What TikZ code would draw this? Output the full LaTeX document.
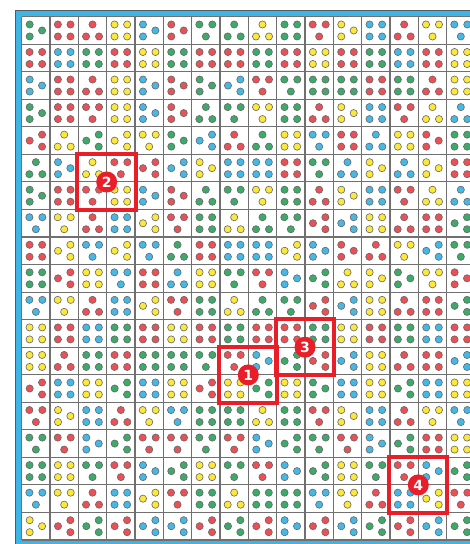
\documentclass[tikz,border=0pt]{standalone}
\usepackage{fontspec}
\newfontfamily\badgefont{DejaVu Sans}
\definecolor{colg}{HTML}{3DAA6A}
\definecolor{colr}{HTML}{EB5057}
\definecolor{colb}{HTML}{45B8E6}
\definecolor{coly}{HTML}{FCE83A}
\definecolor{frameblue}{HTML}{3DB5E6}
\definecolor{hired}{HTML}{E81E28}
\definecolor{gridgray}{HTML}{707070}
\def\parsecell#1#2\relax{\def\dcol{col#1}\def\cpat{#2}}
\newcommand\dicedot[2]{\path[dotsty] (#1,#2) circle[radius=3.6pt];}
\def\patQ{\dicedot{-6.3}{-6}\dicedot{6.3}{-6}\dicedot{-6.3}{6}\dicedot{6.3}{6}}
\def\patU{\dicedot{0}{-6}\dicedot{-6.5}{6}\dicedot{6.5}{6}}
\def\patD{\dicedot{-6.5}{-6}\dicedot{6.5}{-6}\dicedot{0}{6}}
\def\patL{\dicedot{-6.2}{-6}\dicedot{-6.2}{6}\dicedot{6.2}{0}}
\def\patR{\dicedot{-6.2}{0}\dicedot{6.2}{-6}\dicedot{6.2}{6}}
\tikzset{
  dotsty/.style={fill=\dcol, draw=black!60, line width=0.6pt},
  gridline/.style={draw=gridgray, line width=1.1pt},
  hibox/.style={draw=hired, line width=4pt},
  badge/.style={circle, fill=hired, text=white, inner sep=0pt, minimum size=21pt, font=\badgefont\bfseries\fontsize{14}{14}\selectfont}
}
\begin{document}
\begin{tikzpicture}[x=1pt,y=-1pt]
\useasboundingbox (0,0) rectangle (470,544);
\begin{scope}
\clip (0,0) rectangle (470,544);
\fill[frameblue] (15,10.5) rectangle (480,550);
\draw[black!65, line width=0.8pt] (15,10.5) rectangle (480,550);
\fill[white] (21.7,16.7) rectangle (480,540.1);
\foreach \i in {0,...,16} \draw[gridline] ({21.7+28.33*\i},16.7) -- ({21.7+28.33*\i},540.1);
\foreach \j in {0,...,19} \draw[gridline] (21.7,{16.7+27.54*\j}) -- (480,{16.7+27.54*\j});
\foreach \rowlist [count=\r from 0] in {
{gL,rQ,rU,yQ,bL,rL,gD,gU,yU,gQ,rD,yL,bQ,rU,yD,bD},
{rQ,bQ,gQ,rQ,yQ,gQ,rQ,rQ,gQ,rQ,yQ,rQ,gQ,bQ,rQ,yQ},
{bL,rQ,rU,yQ,bL,rL,gL,bR,rD,gD,gQ,gQ,rQ,gQ,rU,yQ},
{gL,rQ,rD,yQ,bL,rL,gU,gD,yD,gQ,rU,yL,bQ,rD,yU,bU},
{rR,yU,gR,yR,yD,gL,bR,rU,gU,yQ,bD,rQ,bU,yQ,rL,gQ},
{gU,bL,yU,rD,rR,bR,yL,bQ,bQ,rQ,gD,bU,yL,bU,yL,rQ},
{gL,rQ,rD,yQ,bL,rL,gU,gD,yD,gQ,rU,yL,bQ,rD,yU,bU},
{bD,yD,rU,bQ,yR,rD,gQ,yU,gU,gD,rR,bR,yQ,rU,rQ,gR},
{rQ,yR,bD,yR,bD,gU,rQ,bQ,bQ,yR,bL,rL,rU,yD,bR,gD},
{gQ,rR,yQ,bD,rQ,bU,yQ,gD,rD,bL,gR,yU,yL,gL,yD,rL},
{bD,yD,rU,bQ,yR,rD,gQ,yU,gU,gD,rR,bR,yQ,rU,rQ,gR},
{yQ,rQ,bQ,gQ,rQ,yQ,rQ,gQ,rQ,rQ,gQ,yQ,rQ,gQ,bQ,rQ},
{yQ,rU,gQ,rQ,gQ,gQ,gD,rD,bL,gR,rR,bR,yQ,rU,rQ,bR},
{rR,bQ,yQ,gR,bQ,yQ,rR,yQ,gR,yQ,gL,bQ,yQ,gR,bQ,yQ},
{rD,yL,bQ,rU,yD,bD,gQ,gQ,yU,gQ,rD,yL,bQ,rU,yD,bD},
{gD,rD,bL,gR,rD,rD,gD,rD,bL,gR,gD,rD,bL,gR,rQ,yQ},
{gQ,yQ,gD,rD,bL,gR,yQ,gD,rD,bL,gR,yQ,gD,rD,bL,gR},
{bD,yD,rU,bQ,yR,rD,gQ,yU,gQ,gQ,bD,yD,rU,bQ,yR,rD},
{yL,rR,gR,rR,bR,bR,rR,gR,rR,bL,rR,bR,gR,rR,bR,gR}} {
  \foreach \cell [count=\c from 0] in \rowlist {
    \expandafter\parsecell\cell\relax
    \pgfmathsetmacro\cx{21.7+28.33*\c+14.165}
    \pgfmathsetmacro\cy{16.7+27.54*\r+13.77}
    \begin{scope}[shift={(\cx,\cy)}]
      \csname pat\cpat\endcsname
    \end{scope}
  }
}
% highlight boxes
\draw[hibox] (219.0,346.7) rectangle (277.2,402.8);
\draw[hibox] (275.7,319.1) rectangle (333.9,375.2);
\draw[hibox] (77.4,153.9) rectangle (135.5,210.0);
\draw[hibox] (389.0,456.8) rectangle (447.2,512.9);
\node[badge] (b1) at (248.3,374.9) {1};
\node[badge] (b2) at (106.7,182.0) {2};
\node[badge] (b3) at (305.0,347.2) {3};
\node[badge] (b4) at (418.3,484.9) {4};
\end{scope}
\end{tikzpicture}
\end{document}
